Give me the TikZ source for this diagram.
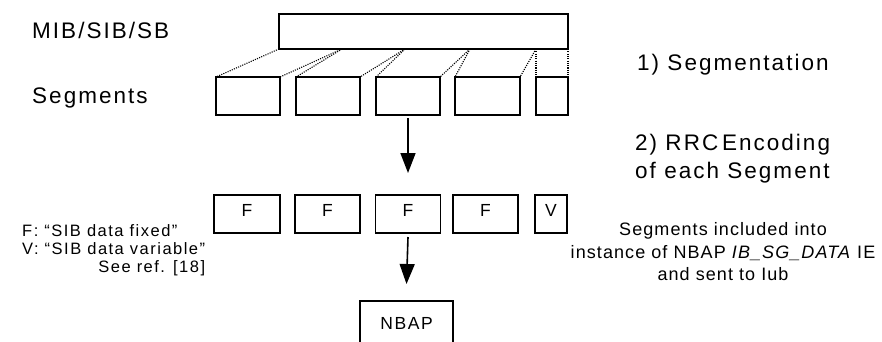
\documentclass[tikz,border=0pt]{standalone}
\usepackage{fontspec}
\setmainfont{Liberation Sans}[LetterSpace=9]
\usetikzlibrary{arrows.meta}
\begin{document}
\begin{tikzpicture}[x=1pt,y=-1pt,
  box/.style={draw, line width=1.5pt, inner sep=0pt, outer sep=0pt},
  seg/.style={box, minimum height=38pt},
  dots/.style={line width=1.1pt, dash pattern=on 1.1pt off 1.2pt},
  arr/.style={line width=1.6pt, -{Triangle[length=20pt,width=15pt]}},
  big/.style={inner sep=0pt, font=\fontsize{22.5}{28}\selectfont},
  mid/.style={inner sep=0pt, font=\fontsize{18}{22.5}\selectfont\addfontfeature{LetterSpace=6}},
  lab/.style={font=\fontsize{17.5}{20}\selectfont, text depth=8pt},
  leg/.style={inner sep=0pt, font=\fontsize{16.5}{18}\selectfont},
]
\useasboundingbox (0,0) rectangle (882,341);
\clip (0,0) rectangle (882,341);

% MIB/SIB/SB block
\node[box, minimum width=289pt, minimum height=35pt] (mib) at (423.5,31.5) {};

% segments
\node[seg, minimum width=64pt] (s1) at (248,96) {};
\node[seg, minimum width=64pt] (s2) at (328,96) {};
\node[seg, minimum width=64pt] (s3) at (408,96) {};
\node[seg, minimum width=65pt] (s4) at (487.5,96) {};
\node[seg, minimum width=32pt] (s5) at (552,96) {};

% segmentation lines
\coordinate (j1) at (342,49);
\coordinate (j2) at (405,49);
\coordinate (j3) at (470,49);
\coordinate (j4) at (536,49);
\draw[dots] (mib.south west) -- (s1.north west);
\draw[dots] (j1) -- (s1.north east);
\draw[dots] (j1) -- (s2.north west);
\draw[dots] (j2) -- (s2.north east);
\draw[dots] (j2) -- (s3.north west);
\draw[dots] (j3) -- (s3.north east);
\draw[dots] (j3) -- (s4.north west);
\draw[dots] (j4) -- (s4.north east);
\draw[dots] (j4) -- (s5.north west);
\draw[dots] (mib.south east) -- (s5.north east);

% encoded segments
\node[seg, lab, minimum width=66pt] (f1) at (247,214) {F};
\node[seg, lab, minimum width=65pt] (f2) at (327.5,214) {F};
\node[seg, lab, minimum width=65pt] (f3) at (408,214) {F};
\node[seg, lab, minimum width=65pt] (f4) at (485.5,214) {F};
\node[seg, lab, minimum width=32pt] (f5) at (551,214) {V};

% NBAP
\node[box, font=\fontsize{17.5}{20}\selectfont, minimum width=93pt, minimum height=44pt] (nbap) at (406.5,323) {NBAP};

% arrows
\draw[arr] ([yshift=-3pt]s3.south) -- ([yshift=22pt]f3.north);
\draw[arr] ([yshift=-4pt]f3.south) -- ([yshift=17pt]nbap.north);

% texts
\node[big, anchor=west] (tmib) at (32,30) {MIB/SIB/SB};
\node[big, anchor=west] (tseg) at (32,98) {Segments};
\node[big, anchor=west] (tstep1) at (637,65) {1) Segmentation};
\node[big, anchor=west, align=left] (tstep2) at (635,159) {2) RRC\,Encoding\\of each Segment};
\node[mid, align=center] (tiub) at (723,252) {Segments included into\\instance of NBAP \textit{IB\_SG\_DATA} IE\\and sent to Iub};
\node[leg, anchor=base west] (legF) at (22,236) {F: “SIB data fixed”};
\node[leg, anchor=base west] (legV) at (22,254) {V: “SIB data variable”};
\node[leg, anchor=base east] (legR) at ([yshift=-18pt]legV.base east) {See ref. [18]};
\end{tikzpicture}
\end{document}
